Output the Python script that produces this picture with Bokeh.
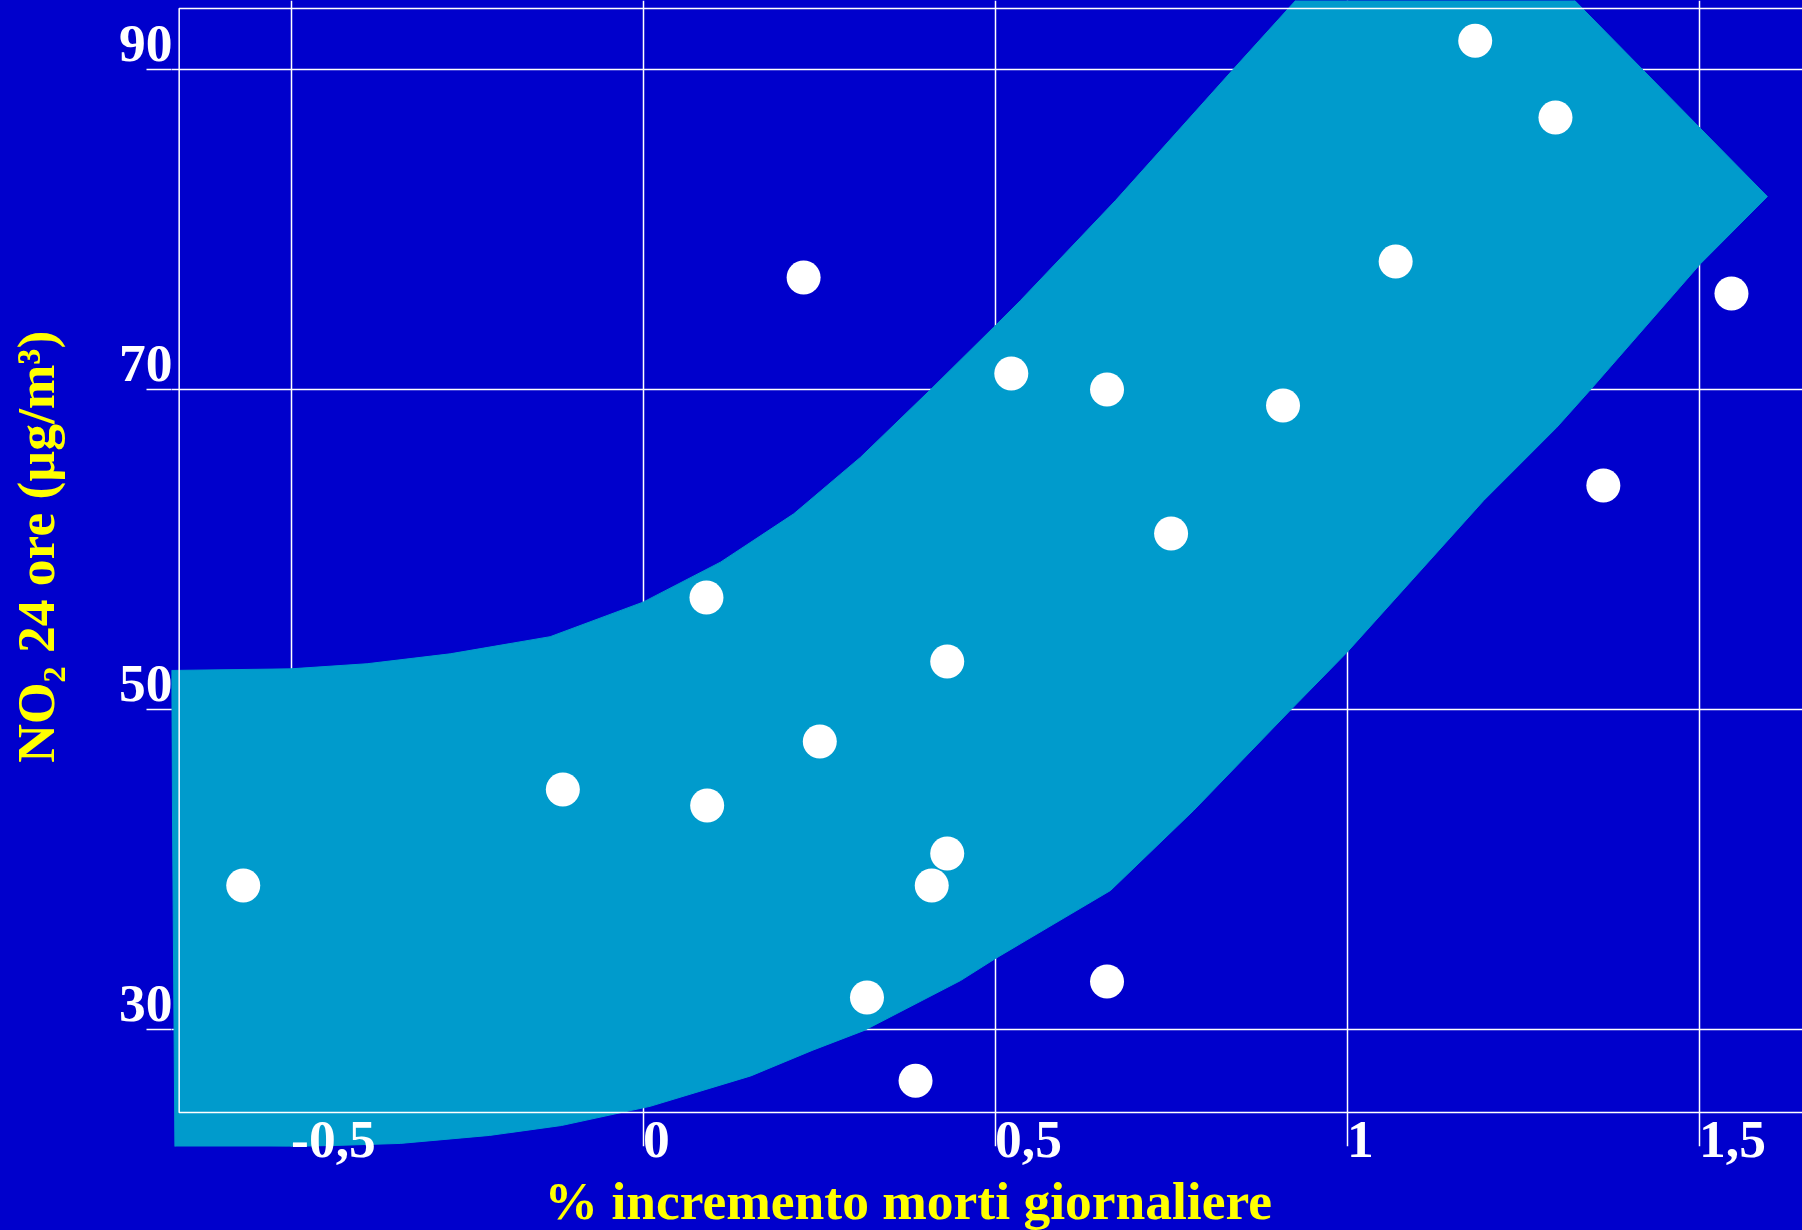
from bokeh.plotting import figure
from bokeh.models import FixedTicker, CustomJSTickFormatter, Title, Range1d
from bokeh.embed import file_html
from bokeh.resources import INLINE

# ---- data ----
x_ticks = [-0.5, 0, 0.5, 1, 1.5]
y_ticks = [30, 50, 70, 90]

pts_x = [-0.568, -0.114, 0.090, 0.091, 0.228, 0.251, 0.318, 0.387, 0.410, 0.432, 0.432,
         0.523, 0.659, 0.659, 0.750, 0.909, 1.069, 1.182, 1.296, 1.364, 1.546]
pts_y = [39.0, 45.0, 57.0, 44.0, 77.0, 48.0, 32.0, 26.8, 39.0, 41.0, 53.0,
         71.0, 70.0, 33.0, 61.0, 69.0, 78.0, 91.8, 87.0, 64.0, 76.0]

# confidence band outline (upper-left edge, then lower-right edge back)
band_upper_x = [-0.670, -0.501, -0.392, -0.274, -0.132, 0.000, 0.110, 0.214, 0.309,
                0.408, 0.498, 0.536, 0.671, 0.838, 0.941]
band_upper_y = [52.44, 52.54, 52.86, 53.48, 54.55, 56.71, 59.21, 62.23, 65.77,
                69.98, 73.89, 75.56, 81.81, 90.0, 95.0]
band_tip_x = [1.308, 1.597]
band_tip_y = [95.0, 82.06]
band_lower_x = [1.502, 1.346, 1.298, 1.194, 1.000, 0.920, 0.782, 0.664,
                0.501, 0.451, 0.314, 0.240, 0.153, 0.010, -0.116, -0.218, -0.345, -0.665]
band_lower_y = [77.86, 70.0, 67.64, 63.06, 53.58, 49.98, 43.69, 38.69,
                34.45, 33.06, 29.94, 28.69, 27.1, 25.2, 24.0, 23.38, 22.88, 22.44]

box_left, box_right, box_bottom, box_top = -0.659, 1.80, 24.81, 93.81

x_title = "% incremento morti giornaliere"
y_title = "NO\u2082 24 ore (\u00b5g/m\u00b3)"

BG = "#0000CC"
BAND = "#009BCC"
YEL = "#FFFF00"
FONT = "Liberation Serif"
FS = "53.5px"

p = figure(width=1802, height=1230, output_backend="svg", toolbar_location=None,
           x_range=Range1d(-0.6699, 1.6469), y_range=Range1d(22.6875, 94.3125),
           min_border_left=171, min_border_right=0, min_border_top=0, min_border_bottom=84)
p.background_fill_color = BG
p.border_fill_color = BG
p.outline_line_color = None

band_x = band_upper_x + band_tip_x + band_lower_x
band_y = band_upper_y + band_tip_y + band_lower_y
p.patch(band_x, band_y, fill_color=BAND, line_color=BAND, line_width=1)

p.quad(left=[box_left], right=[box_right], bottom=[box_bottom], top=[box_top],
       fill_color=None, line_color="white", line_width=1.5)

p.scatter(pts_x, pts_y, size=34, fill_color="white", line_color=None)

# axes
p.xaxis.ticker = FixedTicker(ticks=x_ticks)
p.yaxis.ticker = FixedTicker(ticks=y_ticks)
p.xaxis.formatter = CustomJSTickFormatter(code="return tick.toString().replace('.', ',');")
p.yaxis.formatter = CustomJSTickFormatter(code="return tick.toString() + '\\n';")
for ax in (p.xaxis, p.yaxis):
    ax.axis_line_color = None
    ax.major_tick_in = 0
    ax.minor_tick_line_color = None
    ax.major_label_text_color = "white"
    ax.major_label_text_font = FONT
    ax.major_label_text_font_style = "bold"
    ax.major_label_text_font_size = FS
    ax.major_tick_line_color = "white"
    ax.major_tick_line_width = 1.5
p.xaxis.major_tick_out = 0
p.xaxis.major_label_orientation = -1e-6
p.xaxis.major_label_standoff = -7
p.yaxis.major_tick_out = 25
p.yaxis.major_label_standoff = -26
p.yaxis.major_label_text_line_height = 0.9

# vertical title (an em space in front lifts it slightly above the frame centre)
p.yaxis.axis_label = "\u2003" + y_title
p.yaxis.axis_label_standoff = 50
p.yaxis.axis_label_text_font = FONT
p.yaxis.axis_label_text_font_style = "bold"
p.yaxis.axis_label_text_font_size = FS
p.yaxis.axis_label_text_color = YEL

p.xgrid.grid_line_color = "white"
p.ygrid.grid_line_color = "white"
p.xgrid.grid_line_width = 1.5
p.ygrid.grid_line_width = 1.5

p.add_layout(Title(text=x_title, align="left", offset=373, standoff=-18,
                   text_font_size=FS, text_color=YEL, text_font=FONT,
                   text_font_style="bold"), "below")

html = file_html(p, INLINE)
html = html.replace("</head>", "<style>html,body{background:#0000CC;}</style></head>")
open("out.html", "w").write(html)
